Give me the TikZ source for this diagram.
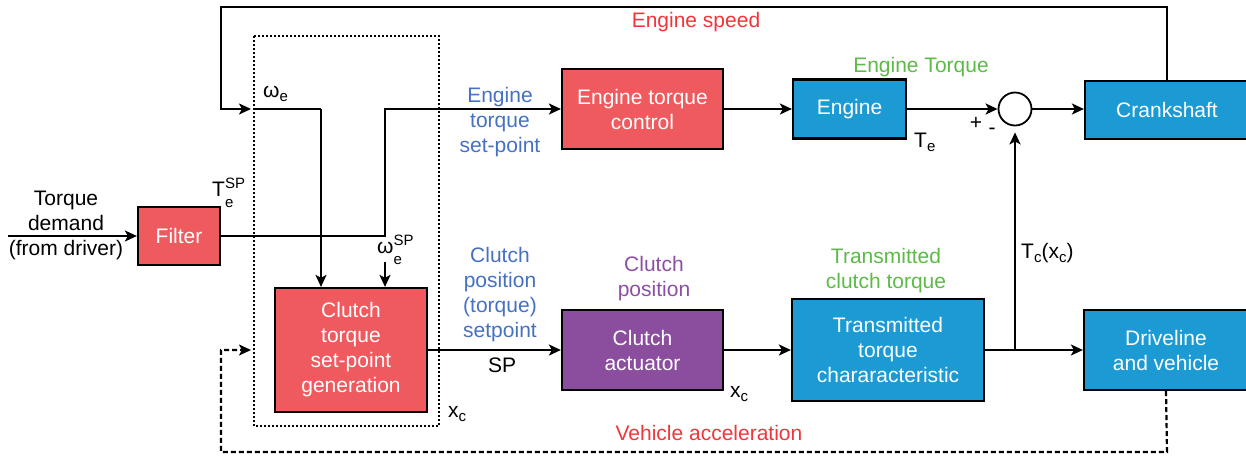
\documentclass[tikz,border=0pt]{standalone}
\usepackage{fontspec}
\setmainfont{Liberation Sans}
\usetikzlibrary{arrows.meta}
\definecolor{boxred}{HTML}{EF5A5F}
\definecolor{boxblue}{HTML}{1B9AD4}
\definecolor{boxpurple}{HTML}{8B4E9F}
\definecolor{lblblue}{HTML}{4670C2}
\definecolor{lblgreen}{HTML}{5CBA48}
\definecolor{lblred}{HTML}{F0363A}
\definecolor{lblpurple}{HTML}{8D4FA3}
\newcommand\smallsz{\fontsize{15}{15}\selectfont}
\newcommand\lowidx[1]{\raisebox{-4pt}{\smallsz #1}}
\newcommand\supidx[2]{\rlap{\raisebox{-11pt}{\smallsz #2}}\raisebox{8pt}{\smallsz #1}}
\tikzset{
  base/.style={font=\fontsize{21}{25}\selectfont},
  blk/.style={base, draw=black, line width=2.2pt, text=white, align=center, inner sep=0pt},
  redblk/.style={blk, fill=boxred},
  blueblk/.style={blk, fill=boxblue},
  purpleblk/.style={blk, fill=boxpurple},
  lbl/.style={base, align=center, inner sep=0pt},
  conn/.style={line width=2.2pt, -{Stealth[length=12pt,width=11pt,inset=3pt]}},
  wire/.style={line width=2.2pt},
  fback/.style={line width=2.2pt, dash pattern=on 5pt off 3pt},
  group/.style={line width=1.8pt, dash pattern=on 2pt off 2pt}
}
\begin{document}
\begin{tikzpicture}[x=1pt, y=-1pt]
\useasboundingbox (0,0) rectangle (1246,456);
\clip (0,0) rectangle (1246,456);

% blocks
\node[redblk, minimum width=82pt, minimum height=58pt] (filter) at (179,236) {Filter};
\node[redblk, minimum width=152pt, minimum height=124pt] (ctsg) at (351,350) {Clutch\\torque\\set-point\\generation};
\node[redblk, minimum width=161pt, minimum height=80pt] (etc) at (642.5,109) {Engine torque\\control};
\node[blueblk, minimum width=113pt, minimum height=59pt] (engine) at (849.5,109) {Engine};
\node[blueblk, minimum width=164pt, minimum height=58pt] (crank) at (1167,110) {Crankshaft};
\node[purpleblk, minimum width=161pt, minimum height=80pt] (act) at (642.5,350) {Clutch\\actuator};
\node[blueblk, minimum width=192pt, minimum height=102pt] (ttc) at (888,350) {Transmitted\\torque\\chararacteristic};
\node[blueblk, minimum width=164pt, minimum height=80pt] (drive) at (1166,350) {Driveline\\and vehicle};
\node[draw=black, line width=1.8pt, circle, minimum size=33pt, inner sep=0pt] (sum) at (1015,109) {};

% dotted grouping of the set-point generation
\draw[group] (254,36) rectangle (439,426);

% helper points
\coordinate (din) at (8,236);
\coordinate (tsp) at (385,109);
\coordinate (we) at (254,109);
\coordinate (wcol) at (321,109);
\coordinate (wsp) at (385,262);
\coordinate (topR) at (1167,7);
\coordinate (topL) at (221,7);
\coordinate (bot) at (1167,452);
\coordinate (botL) at (221,452);
\coordinate (fbin) at (254,350);
\coordinate (tap) at (1015,350);

% signal flow
\draw[conn] (din) -- (filter.west);
\draw[conn] (filter.east) -| (tsp) -- (etc.west);
\draw[conn] (etc.east) -- (etc.east -| engine.west);
\draw[conn] (engine.east) -- (engine.east -| sum.west);
\draw[conn] (sum.east) -- (sum.east -| crank.west);
\draw[conn] (ctsg.east) -- (act.west);
\draw[conn] (act.east) -- (ttc.west);
\draw[conn] (ttc.east) -- (drive.west);
\draw[conn, shorten >=6pt] (tap) -- (sum.south);
\draw[conn] (wcol) -- (wcol |- ctsg.north);
\draw[wire] (we) -- (wcol);
\draw[conn] (wsp) -- (wsp |- ctsg.north);

% feedback paths
\draw[conn, shorten >=3pt] (crank.north) -- (topR) -- (topL) -- (topL |- we) -- (we);
\draw[fback, -{Stealth[length=12pt,width=11pt,inset=3pt]}, shorten >=3pt] (drive.south) -- (bot) -- (botL) -- (botL |- fbin) -- (fbin);

% signal labels
\node[lbl] (ltd) at (66,225) {Torque\\demand\\(from driver)};
\node[lbl, anchor=base west] (ltsp) at (212,196) {T\supidx{SP}{e}};
\node[lbl, anchor=base west] (lwe) at (263,97) {ω\lowidx{e}};
\node[lbl, anchor=base west] (lwsp) at (377,253) {ω\supidx{SP}{e}};
\node[lbl, text=lblblue] (lets) at (500,122) {Engine\\torque\\set-point};
\node[lbl, text=lblblue] (lcps) at (500,295) {Clutch\\position\\(torque)\\setpoint};
\node[lbl, anchor=base] (lsp) at (502,372) {SP};
\node[lbl, text=lblpurple] (lcp) at (654,279) {Clutch\\position};
\node[lbl, anchor=base west] (lxc1) at (448,417) {x\lowidx{c}};
\node[lbl, anchor=base west] (lxc2) at (730,397) {x\lowidx{c}};
\node[lbl, text=lblred] (les) at (696,22) {Engine speed};
\node[lbl, text=lblgreen] (let) at (921,67) {Engine Torque};
\node[lbl, anchor=base west] (lte) at (914,147) {T\lowidx{e}};
\node[lbl] (lplus) at (976,123) {+};
\node[lbl] (lminus) at (992,131) {-};
\node[lbl, anchor=base west] (ltc) at (1021,258) {T\lowidx{c}(x\lowidx{c})};
\node[lbl, text=lblgreen] (ltct) at (886,271) {Transmitted\\clutch torque};
\node[lbl, text=lblred] (lva) at (709,433) {Vehicle acceleration};
\end{tikzpicture}
\end{document}
